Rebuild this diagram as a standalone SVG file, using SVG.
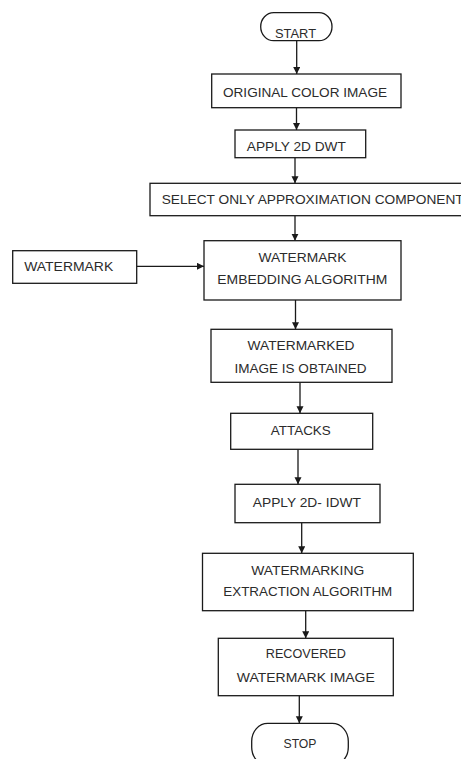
<svg xmlns="http://www.w3.org/2000/svg" width="461" height="759" viewBox="0 0 461 759">
<style>
.box{fill:#fff;stroke:#1a1a1a;stroke-width:1.3}
.t{font-family:"Liberation Sans",Arial,sans-serif;font-size:13.5px;fill:#2b2b2b;text-anchor:middle}
.c{stroke:#1a1a1a;stroke-width:1.3;fill:none;marker-end:url(#ah)}
</style>
<defs>
<marker id="ah" markerWidth="8" markerHeight="8" refX="7" refY="3.5" orient="auto" markerUnits="userSpaceOnUse">
<path d="M0,0 L7,3.5 L0,7 Z" fill="#1a1a1a"/>
</marker>
</defs>
<rect width="461" height="759" fill="#fff"/>
<g id="connectors">
<line class="c" x1="296.7" y1="40.7" x2="296.7" y2="74"/>
<line class="c" x1="296.5" y1="107.7" x2="296.5" y2="130"/>
<line class="c" x1="295" y1="157.7" x2="295" y2="183.3"/>
<line class="c" x1="295" y1="215.7" x2="295" y2="240.7"/>
<line class="c" x1="136.7" y1="266.3" x2="204" y2="266.3"/>
<line class="c" x1="295.5" y1="300" x2="295.5" y2="329.3"/>
<line class="c" x1="300" y1="382.3" x2="300" y2="413.3"/>
<line class="c" x1="298" y1="449.3" x2="298" y2="484.3"/>
<line class="c" x1="301.7" y1="522.7" x2="301.7" y2="553.3"/>
<line class="c" x1="305.7" y1="610.7" x2="305.7" y2="638.3"/>
<line class="c" x1="299.3" y1="695.7" x2="299.3" y2="723.3"/>
</g>
<g id="start">
<rect class="box" x="260.7" y="12.7" width="71.3" height="28" rx="13" ry="14"/>
<text class="t" x="295.5" y="37.5" textLength="41" lengthAdjust="spacingAndGlyphs">START</text>
</g>
<g id="original">
<rect class="box" x="211.7" y="74" width="189.3" height="33.7"/>
<text class="t" x="305" y="96.7" textLength="164" lengthAdjust="spacingAndGlyphs">ORIGINAL COLOR IMAGE</text>
</g>
<g id="dwt">
<rect class="box" x="235" y="130" width="130.7" height="27.7"/>
<text class="t" x="296.3" y="150.7" textLength="99" lengthAdjust="spacingAndGlyphs">APPLY 2D DWT</text>
</g>
<g id="select">
<rect class="box" x="150" y="183.3" width="320" height="32.4"/>
<text x="161.7" y="203.5" style="font-family:'Liberation Sans',Arial,sans-serif;font-size:13.5px;fill:#2b2b2b" textLength="302" lengthAdjust="spacingAndGlyphs">SELECT ONLY APPROXIMATION COMPONENT</text>
</g>
<g id="watermark">
<rect class="box" x="12.7" y="250.7" width="124" height="32.6"/>
<text class="t" x="68.7" y="271" textLength="89" lengthAdjust="spacingAndGlyphs">WATERMARK</text>
</g>
<g id="embedding">
<rect class="box" x="204" y="240.7" width="197" height="59.3"/>
<text class="t" x="302.5" y="262.3" textLength="88" lengthAdjust="spacingAndGlyphs">WATERMARK</text>
<text class="t" x="302.3" y="284.3" textLength="170" lengthAdjust="spacingAndGlyphs">EMBEDDING ALGORITHM</text>
</g>
<g id="watermarked">
<rect class="box" x="211" y="329.3" width="181" height="53"/>
<text class="t" x="301" y="350" textLength="107" lengthAdjust="spacingAndGlyphs">WATERMARKED</text>
<text class="t" x="300.5" y="373.3" textLength="132" lengthAdjust="spacingAndGlyphs">IMAGE IS OBTAINED</text>
</g>
<g id="attacks">
<rect class="box" x="230.7" y="413.3" width="142" height="36"/>
<text class="t" x="300.8" y="435" textLength="60" lengthAdjust="spacingAndGlyphs">ATTACKS</text>
</g>
<g id="idwt">
<rect class="box" x="235" y="484.3" width="145" height="38.4"/>
<text class="t" x="306.8" y="506.7" textLength="108" lengthAdjust="spacingAndGlyphs">APPLY 2D- IDWT</text>
</g>
<g id="extraction">
<rect class="box" x="202.5" y="553.3" width="210.8" height="57.4"/>
<text class="t" x="307.7" y="575" textLength="113" lengthAdjust="spacingAndGlyphs">WATERMARKING</text>
<text class="t" x="307.8" y="595.7" textLength="169" lengthAdjust="spacingAndGlyphs">EXTRACTION ALGORITHM</text>
</g>
<g id="recovered">
<rect class="box" x="218.3" y="638.3" width="175" height="57.4"/>
<text class="t" x="305.8" y="658.3" textLength="80" lengthAdjust="spacingAndGlyphs">RECOVERED</text>
<text class="t" x="305.8" y="682.3" textLength="138" lengthAdjust="spacingAndGlyphs">WATERMARK IMAGE</text>
</g>
<g id="stop">
<rect class="box" x="251.7" y="723.3" width="96.6" height="42" rx="16" ry="18"/>
<text class="t" x="300" y="748.3" textLength="33" lengthAdjust="spacingAndGlyphs">STOP</text>
</g>
</svg>
